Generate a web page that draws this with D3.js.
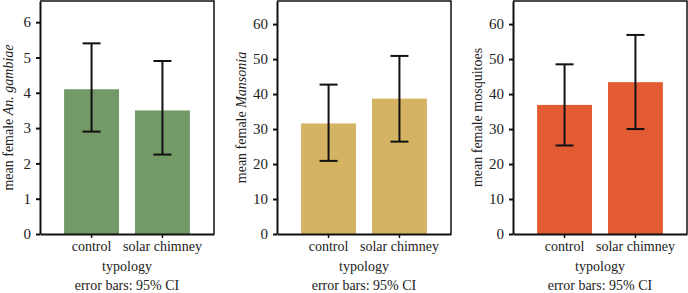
<!DOCTYPE html>
<html>
<head>
<meta charset="utf-8">
<script src="https://cdn.jsdelivr.net/npm/d3@7"></script>
<style>
  body { margin: 0; background: #ffffff; }
</style>
</head>
<body>
<div id="chart"></div>
<script>
// data
var categories = ["control", "solar chimney"];

var gambiaeMean = [4.1, 3.5];
var gambiaeLow = [2.9, 2.25];
var gambiaeHigh = [5.4, 4.9];

var mansoniaMean = [31.6, 38.7];
var mansoniaLow = [20.9, 26.4];
var mansoniaHigh = [42.7, 50.9];

var mosquitoMean = [36.9, 43.4];
var mosquitoLow = [25.3, 30.0];
var mosquitoHigh = [48.5, 56.9];

var gambiaeTicks = [0, 1, 2, 3, 4, 5, 6];
var countTicks = [0, 10, 20, 30, 40, 50, 60];

var panels = [
	{left: 40, labelX: -27.5, yMax: 6.6, ticks: gambiaeTicks, mean: gambiaeMean, low: gambiaeLow, high: gambiaeHigh,
	 color: "#739966", label: ["mean female ", "An. gambiae"]},
	{left: 277, labelX: -31, yMax: 66.6, ticks: countTicks, mean: mansoniaMean, low: mansoniaLow, high: mansoniaHigh,
	 color: "#d4b462", label: ["mean female ", "Mansonia"]},
	{left: 513, labelX: -31, yMax: 66.6, ticks: countTicks, mean: mosquitoMean, low: mosquitoLow, high: mosquitoHigh,
	 color: "#e35b33", label: ["mean female mosquitoes", ""]}
];

var W = 688, H = 293;
var plotW = 174, plotTop = 1, plotBottom = 234;

var svg = d3.select("#chart").append("svg")
	.attr("width", W)
	.attr("height", H)
	.style("font-family", "'Liberation Serif', 'Times New Roman', serif");

panels.forEach(function(p) {
	var g = svg.append("g")
		.attr("transform", "translate(" + p.left + ",0)");

	var x = d3.scaleBand()
		.domain(categories)
		.range([0, plotW])
		.paddingInner(0.225)
		.paddingOuter(0.34);

	var y = d3.scaleLinear()
		.domain([0, p.yMax])
		.range([plotBottom, plotTop]);

	var rows = categories.map(function(c, i) {
		return {name: c, mean: p.mean[i], low: p.low[i], high: p.high[i]};
	});

	// bars
	g.selectAll(".bar")
		.data(rows)
		.enter()
		.append("rect")
			.attr("class", "bar")
			.attr("x", d => x(d.name))
			.attr("y", d => y(d.mean))
			.attr("width", x.bandwidth())
			.attr("height", d => plotBottom - y(d.mean))
			.attr("fill", p.color);

	// error bars
	var capHalf = 9;
	var eb = g.selectAll(".err")
		.data(rows)
		.enter()
		.append("g")
			.attr("class", "err")
			.attr("stroke", "#111")
			.attr("stroke-width", 2);
	eb.append("line")
		.attr("x1", d => x(d.name) + x.bandwidth() / 2)
		.attr("x2", d => x(d.name) + x.bandwidth() / 2)
		.attr("y1", d => y(d.low))
		.attr("y2", d => y(d.high));
	eb.append("line")
		.attr("x1", d => x(d.name) + x.bandwidth() / 2 - capHalf)
		.attr("x2", d => x(d.name) + x.bandwidth() / 2 + capHalf)
		.attr("y1", d => y(d.high))
		.attr("y2", d => y(d.high));
	eb.append("line")
		.attr("x1", d => x(d.name) + x.bandwidth() / 2 - capHalf)
		.attr("x2", d => x(d.name) + x.bandwidth() / 2 + capHalf)
		.attr("y1", d => y(d.low))
		.attr("y2", d => y(d.low));

	// frame: top and right
	g.append("path")
		.attr("d", "M0," + plotTop + "H" + plotW + "V" + plotBottom)
		.attr("fill", "none")
		.attr("stroke", "#111")
		.attr("stroke-width", 1.5);

	// y axis
	var yAxis = g.append("g")
		.call(d3.axisLeft(y).tickValues(p.ticks).tickFormat(d3.format("d"))
			.tickSize(4).tickPadding(5).tickSizeOuter(0));
	yAxis.attr("font-family", null);
	yAxis.select(".domain").attr("stroke", "#111").attr("stroke-width", 2);
	yAxis.selectAll(".tick line").attr("stroke", "#111").attr("stroke-width", 2);
	yAxis.selectAll("text")
		.attr("font-size", "15px")
		.attr("fill", "#222");

	// x axis
	var xAxis = g.append("g")
		.attr("transform", "translate(0," + plotBottom + ")")
		.call(d3.axisBottom(x).tickSize(4).tickPadding(3).tickSizeOuter(0));
	xAxis.attr("font-family", null);
	xAxis.select(".domain").attr("stroke", "#111").attr("stroke-width", 2);
	xAxis.selectAll(".tick line").attr("stroke", "#111").attr("stroke-width", 1.5);
	xAxis.selectAll("text")
		.attr("font-size", "14px")
		.attr("fill", "#222");

	// axis titles
	g.append("text")
		.attr("x", plotW / 2)
		.attr("y", 271)
		.attr("text-anchor", "middle")
		.attr("font-size", "14px")
		.attr("fill", "#222")
		.text("typology");

	g.append("text")
		.attr("x", plotW / 2)
		.attr("y", 290)
		.attr("text-anchor", "middle")
		.attr("font-size", "14px")
		.attr("fill", "#222")
		.text("error bars: 95% CI");

	var yl = g.append("text")
		.attr("transform", "translate(" + p.labelX + "," + ((plotTop + plotBottom) / 2) + ") rotate(-90)")
		.attr("text-anchor", "middle")
		.attr("font-size", "14px")
		.attr("fill", "#222");
	yl.append("tspan").text(p.label[0]);
	if (p.label[1]) {
		yl.append("tspan").attr("font-style", "italic").text(p.label[1]);
	}
});
</script>
</body>
</html>
